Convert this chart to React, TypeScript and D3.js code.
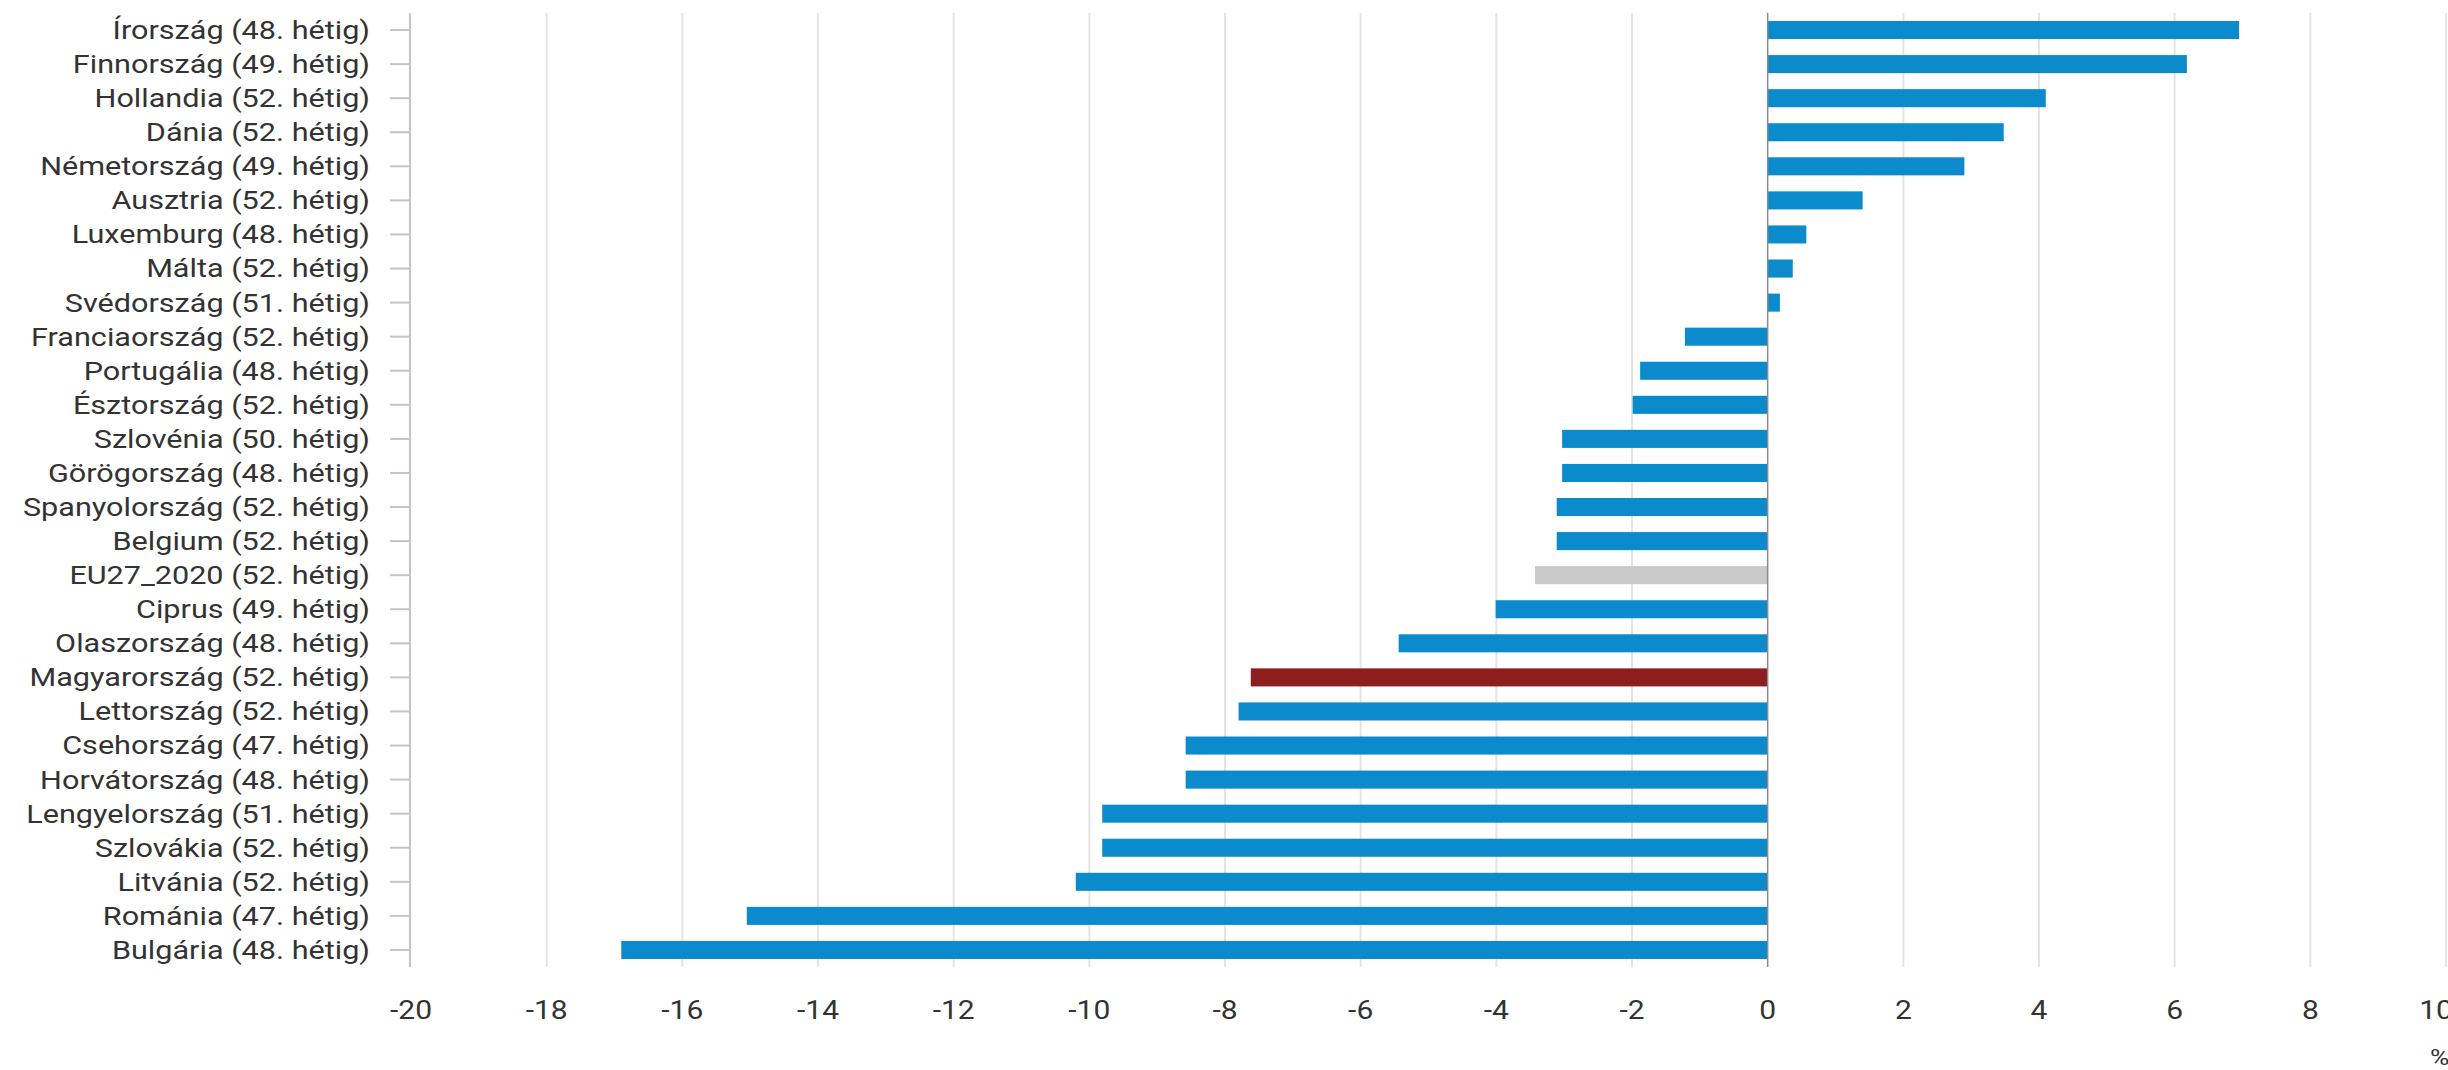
import React, { useEffect } from "react";
import * as d3 from "d3";

const countries = [
  "Írország", "Finnország", "Hollandia", "Dánia", "Németország", "Ausztria",
  "Luxemburg", "Málta", "Svédország", "Franciaország", "Portugália", "Észtország",
  "Szlovénia", "Görögország", "Spanyolország", "Belgium", "EU27_2020", "Ciprus",
  "Olaszország", "Magyarország", "Lettország", "Csehország", "Horvátország",
  "Lengyelország", "Szlovákia", "Litvánia", "Románia", "Bulgária",
];
const weeks = [48, 49, 52, 52, 49, 52, 48, 52, 51, 52, 48, 52, 50, 48, 52, 52, 52, 49, 48, 52, 52, 47, 48, 51, 52, 52, 47, 48];
const values = [
  6.95, 6.18, 4.1, 3.48, 2.9, 1.4, 0.57, 0.37, 0.18, -1.22, -1.88, -1.99,
  -3.03, -3.03, -3.11, -3.11, -3.43, -4.01, -5.44, -7.62, -7.8, -8.58, -8.58,
  -9.81, -9.81, -10.2, -15.05, -16.9,
];
const xTicks = [-20, -18, -16, -14, -12, -10, -8, -6, -4, -2, 0, 2, 4, 6, 8, 10];
const unitLabel = "%";
const highlight = "Magyarország";
const average = "EU27_2020";

const W = 2448;
const H = 1070;
const FONT = "Roboto, 'Noto Sans', sans-serif";
const STRETCH = 1.2;

export default function App() {
  useEffect(() => {
    document.body.style.margin = "0";
    document.body.style.overflow = "hidden";
  }, []);

  const labels = countries.map((c, i) => `${c} (${weeks[i]}. hétig)`);
  const x = d3.scaleLinear().domain([-20, 10]).range([411, 2446]);
  const y = d3.scaleBand<string>().domain(labels).range([13, 967]).paddingInner(0.47).paddingOuter(0.235);
  const yRow = d3.scaleBand<string>().domain(labels).range([13, 967]);

  const color = (c: string) => (c === highlight ? "#8e1e1e" : c === average ? "#c8c8c8" : "#0b8bcc");

  return (
    <svg width={W} height={H} style={{ position: "absolute", left: 0, top: 0, background: "#fff" }} fontFamily={FONT}>
      {xTicks.filter((t) => t !== -20 && t !== 0).map((t) => (
        <line key={"g" + t} x1={x(t)} x2={x(t)} y1={13} y2={967} stroke="#e4e4e4" strokeWidth={2} />
      ))}
      {labels.map((l, i) => {
        const v = values[i];
        return (
          <rect
            key={l}
            x={x(Math.min(0, v))}
            y={y(l)}
            width={Math.abs(x(v) - x(0))}
            height={y.bandwidth()}
            fill={color(countries[i])}
          />
        );
      })}
      <line x1={x(0)} x2={x(0)} y1={13} y2={967} stroke="#8a8a8a" strokeWidth={1.5} />
      <line x1={x(-20) - 1} x2={x(-20) - 1} y1={13} y2={967} stroke="#c4c4c4" strokeWidth={2} />
      {labels.map((l) => {
        const cy = (yRow(l) as number) + yRow.bandwidth() / 2;
        return (
          <g key={"t" + l}>
            <line x1={390} x2={x(-20) - 1} y1={cy} y2={cy} stroke="#c4c4c4" strokeWidth={2} />
            <text
              transform={`translate(370,${cy}) scale(${STRETCH},1)`}
              textAnchor="end"
              dy="0.35em"
              fontSize={25.5}
              fill="#333"
            >
              {l}
            </text>
          </g>
        );
      })}
      {xTicks.map((t, i) => {
        const last = i === xTicks.length - 1;
        const px = last ? x(t) - 10 : x(t);
        return (
          <text
            key={"x" + t}
            transform={`translate(${px},1010) scale(${STRETCH},1)`}
            textAnchor="middle"
            dy="0.35em"
            fontSize={25}
            fill="#333"
          >
            {t < 0 ? "-" + Math.abs(t) : String(t)}
          </text>
        );
      })}
      <text transform={`translate(2430,1057) scale(${STRETCH},1)`} dy="0.35em" fontSize={22} fill="#333">
        {unitLabel}
      </text>
    </svg>
  );
}
